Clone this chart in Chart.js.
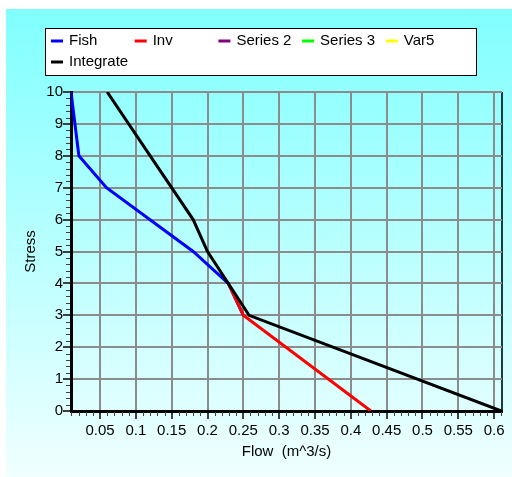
<!DOCTYPE html>
<html>
<head>
<meta charset="utf-8">
<script src="https://cdn.jsdelivr.net/npm/chart.js@4.4.0/dist/chart.umd.min.js"></script>
<style>
  html, body { margin: 0; padding: 0; background: #fff; }
  canvas { display: block; }
</style>
</head>
<body>
<canvas id="chartFlowStress" width="512" height="477"></canvas>
<script>
// values
const fishStress = [10, 8, 7, 5, 4, 3];
const fishFlow = [0.0095, 0.0205, 0.059, 0.18, 0.229, 0.25];
const invStress = [4, 3, 0];
const invFlow = [0.229, 0.25, 0.428];
const integrateStress = [10, 8, 6, 5, 3, 0];
const integrateFlow = [0.06, 0.12, 0.18, 0.2, 0.258, 0.61];

const flowMin = 0.0095;
const flowMax = 0.611;
const flowTicks = [0.05, 0.1, 0.15, 0.2, 0.25, 0.3, 0.35, 0.4, 0.45, 0.5, 0.55, 0.6];
const stressTicks = [0, 1, 2, 3, 4, 5, 6, 7, 8, 9, 10];

const FONT = { family: "'Liberation Sans', Arial, sans-serif", size: 15 };
const GRID = '#8c8c8c';

function points(xs, ys) {
  return xs.map(function(x, i) { return { x: x, y: ys[i] }; });
}

// panel background with gradient
const backgroundPlugin = {
  id: 'panelBackground',
  beforeDraw: function(chart) {
    const ctx = chart.ctx;
    ctx.save();
    ctx.fillStyle = '#fff';
    ctx.fillRect(0, 0, chart.width, chart.height);
    const g = ctx.createLinearGradient(0, 9, 0, chart.height);
    g.addColorStop(0, '#80ffff');
    g.addColorStop(1, '#f0ffff');
    ctx.fillStyle = g;
    ctx.fillRect(6, 9, chart.width - 6, chart.height - 9);
    ctx.restore();
  }
};

// small minor ticks outside both axes
const minorTicksPlugin = {
  id: 'minorTicks',
  afterDraw: function(chart) {
    const ctx = chart.ctx;
    const xs = chart.scales.x, ys = chart.scales.y;
    const area = chart.chartArea;
    ctx.save();
    ctx.strokeStyle = '#404040';
    ctx.lineWidth = 1;
    ctx.beginPath();
    for (let k = 1; k <= 61; k++) {
      if (k % 5 === 0) continue;
      const px = Math.round(xs.getPixelForValue(k / 100)) + 0.5;
      if (px < area.left || px > area.right) continue;
      ctx.moveTo(px, area.bottom + 1);
      ctx.lineTo(px, area.bottom + 5);
    }
    for (let k = 1; k < 50; k++) {
      if (k % 5 === 0) continue;
      const py = Math.round(ys.getPixelForValue(k / 5)) + 0.5;
      ctx.moveTo(area.left - 5, py);
      ctx.lineTo(area.left - 1, py);
    }
    ctx.stroke();
    ctx.restore();
  }
};

// boxed legend laid out in fixed columns
const boxLegendPlugin = {
  id: 'boxLegend',
  afterDraw: function(chart) {
    const ctx = chart.ctx;
    ctx.save();
    ctx.fillStyle = '#fff';
    ctx.fillRect(45, 28, 431, 47);
    ctx.strokeStyle = '#000';
    ctx.lineWidth = 1;
    ctx.strokeRect(45.5, 28.5, 431, 47);
    ctx.font = FONT.size + 'px ' + FONT.family;
    ctx.textBaseline = 'middle';
    ctx.textAlign = 'left';
    chart.data.datasets.forEach(function(ds, i) {
      const col = i % 5, row = Math.floor(i / 5);
      const x = 51 + col * 83.7;
      const y = 41 + row * 21;
      ctx.strokeStyle = ds.borderColor;
      ctx.lineWidth = 3;
      ctx.beginPath();
      ctx.moveTo(x, y);
      ctx.lineTo(x + 12, y);
      ctx.stroke();
      ctx.fillStyle = '#000';
      ctx.fillText(ds.label, x + 18, y);
    });
    ctx.restore();
  }
};

const data = {
  datasets: [
    { label: 'Fish', data: points(fishFlow, fishStress), borderColor: '#0000ff', order: 3 },
    { label: 'Inv', data: points(invFlow, invStress), borderColor: '#ff0000', order: 2 },
    { label: 'Series 2', data: [], borderColor: '#800080', order: 4 },
    { label: 'Series 3', data: [], borderColor: '#00ff00', order: 5 },
    { label: 'Var5', data: [], borderColor: '#ffff00', order: 6 },
    { label: 'Integrate', data: points(integrateFlow, integrateStress), borderColor: '#000000', order: 1 }
  ]
};
data.datasets.forEach(function(ds) {
  ds.showLine = true;
  ds.borderWidth = 3;
  ds.pointRadius = 0;
  ds.pointHoverRadius = 0;
  ds.tension = 0;
  ds.backgroundColor = ds.borderColor;
});

const config = {
  type: 'scatter',
  data: data,
  options: {
    responsive: false,
    animation: false,
    devicePixelRatio: 1,
    layout: { padding: { top: 92, right: 10, left: 0, bottom: 0 } },
    plugins: {
      legend: { display: false },
      tooltip: { enabled: false }
    },
    scales: {
      x: {
        type: 'linear',
        min: flowMin,
        max: flowMax,
        afterBuildTicks: function(s) {
          s.ticks = [flowMin].concat(flowTicks, [flowMax]).map(function(v) { return { value: v }; });
        },
        afterFit: function(s) { s.height = 66; },
        ticks: {
          autoSkip: false,
          maxRotation: 0,
          padding: 3,
          color: '#000',
          font: FONT,
          callback: function(v) { return flowTicks.indexOf(v) >= 0 ? String(v) : ''; }
        },
        grid: {
          lineWidth: 2,
          tickLength: 8,
          color: function(c) {
            if (!c.tick) return GRID;
            if (c.tick.value === flowMin) return 'rgba(0,0,0,0)';
            if (c.tick.value === flowMax) return '#1e3c3c';
            return GRID;
          },
          tickColor: function(c) {
            if (c.tick && (c.tick.value === flowMin || c.tick.value === flowMax)) return 'rgba(0,0,0,0)';
            return '#404040';
          }
        },
        border: { color: '#000', width: 3 },
        title: {
          display: true,
          text: 'Flow  (m^3/s)',
          color: '#000',
          font: FONT,
          padding: { top: 0, bottom: 16 }
        }
      },
      y: {
        type: 'linear',
        min: 0,
        max: 10,
        afterBuildTicks: function(s) {
          s.ticks = stressTicks.map(function(v) { return { value: v }; });
        },
        afterFit: function(s) { s.width = 71; },
        ticks: { padding: 0, color: '#000', font: FONT },
        grid: {
          lineWidth: 2,
          tickLength: 8,
          color: function(c) {
            return c.tick && c.tick.value === 0 ? 'rgba(0,0,0,0)' : GRID;
          },
          tickColor: '#404040'
        },
        border: { color: '#000', width: 3 },
        title: {
          display: true,
          text: 'Stress',
          color: '#000',
          font: FONT,
          padding: { top: 22, bottom: 0 }
        }
      }
    }
  },
  plugins: [backgroundPlugin, minorTicksPlugin, boxLegendPlugin]
};

const ctx = document.getElementById('chartFlowStress').getContext('2d');
const flowChart = new Chart(ctx, config);
</script>
</body>
</html>
